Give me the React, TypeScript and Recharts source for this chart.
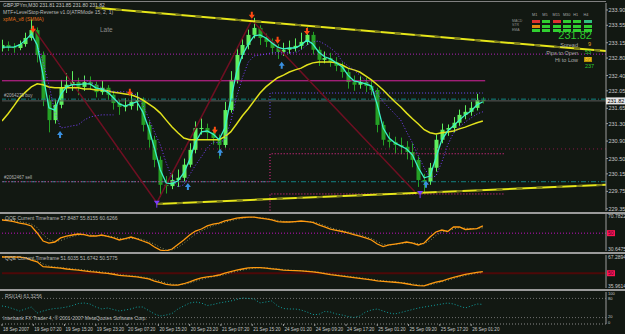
import { Bar, ComposedChart, Line, ReferenceLine, Scatter, XAxis, YAxis } from "recharts";

const BG = "#121812";
const AXIS = "#9c9c9c";
const LABEL = "#c8c8c8";
const FONT = "'Liberation Sans', Arial, sans-serif";
const CANDLE_UP = "#5ef05e";
const CANDLE_DOWN = "#25a025";

// GBPJPYm M30 candles, one candle per 3 bars
const opens = [
  233.02, 233.10, 233.05, 233.03, 233.12, 233.26, 233.44, 232.87, 231.84, 231.38,
  231.73, 232.12, 232.19, 232.25, 232.14, 232.25, 232.19, 232.02, 232.12, 231.96,
  231.77, 231.68, 231.70, 231.80, 231.84, 231.27, 230.93, 230.47, 229.90, 229.87,
  230.01, 230.06, 230.36, 230.70, 231.20, 231.20, 231.09, 230.97, 230.81, 231.61,
  232.30, 232.87, 233.10, 233.33, 233.49, 233.26, 233.17, 233.03, 232.94, 232.99,
  233.03, 233.08, 233.17, 233.33, 232.99, 232.76, 232.80, 232.71, 232.62, 232.48,
  232.25, 232.19, 232.25, 232.16, 232.07, 231.27, 230.93, 230.88, 230.81, 230.77,
  230.65, 230.47, 230.01, 229.97, 230.29, 230.93, 231.16, 231.20, 231.32, 231.50,
  231.57, 231.66, 231.84,
];
const highs = [
  233.22, 233.18, 233.14, 233.20, 233.38, 233.68, 233.50, 232.95, 231.95, 231.85,
  232.30, 232.45, 232.50, 232.35, 232.40, 232.38, 232.26, 232.28, 232.18, 232.05,
  231.85, 231.88, 232.00, 232.02, 231.90, 231.35, 231.02, 230.55, 230.10, 230.20,
  230.25, 230.50, 230.85, 231.35, 231.42, 231.30, 231.18, 231.05, 231.80, 232.50,
  233.05, 233.25, 233.45, 233.72, 233.55, 233.36, 233.25, 233.12, 233.15, 233.20,
  233.25, 233.38, 233.50, 233.40, 233.06, 232.95, 232.92, 232.82, 232.70, 232.55,
  232.40, 232.38, 232.35, 232.30, 232.12, 231.35, 231.10, 231.00, 230.98, 230.90,
  230.85, 230.55, 230.15, 230.40, 231.05, 231.30, 231.28, 231.45, 231.62, 231.72,
  231.80, 231.98, 231.90,
];
const lows = [
  232.95, 232.96, 232.92, 232.98, 233.06, 233.20, 232.70, 231.70, 231.10, 231.30,
  231.65, 232.00, 232.05, 231.95, 232.05, 232.08, 231.90, 231.96, 231.85, 231.62,
  231.50, 231.58, 231.62, 231.60, 231.12, 230.75, 230.30, 229.62, 229.70, 229.80,
  229.85, 229.98, 230.30, 230.62, 231.05, 230.95, 230.82, 230.50, 230.75, 231.55,
  232.22, 232.78, 233.00, 233.25, 233.10, 233.05, 232.88, 232.78, 232.85, 232.90,
  232.95, 233.00, 233.10, 232.88, 232.62, 232.68, 232.60, 232.50, 232.35, 232.10,
  232.05, 232.10, 232.02, 231.95, 231.10, 230.80, 230.75, 230.62, 230.60, 230.48,
  230.30, 229.85, 229.72, 229.90, 230.20, 230.85, 231.02, 231.10, 231.25, 231.40,
  231.48, 231.60, 231.76,
];
const closes = [
  233.10, 233.05, 233.03, 233.12, 233.26, 233.44, 232.87, 231.84, 231.38, 231.73,
  232.12, 232.19, 232.25, 232.14, 232.25, 232.19, 232.02, 232.12, 231.96, 231.77,
  231.68, 231.70, 231.80, 231.84, 231.27, 230.93, 230.47, 229.90, 229.87, 230.01,
  230.06, 230.36, 230.70, 231.20, 231.20, 231.09, 230.97, 230.81, 231.61, 232.30,
  232.87, 233.10, 233.33, 233.49, 233.26, 233.17, 233.03, 232.94, 232.99, 233.03,
  233.08, 233.17, 233.33, 232.99, 232.76, 232.80, 232.71, 232.62, 232.48, 232.25,
  232.19, 232.25, 232.16, 232.07, 231.27, 230.93, 230.88, 230.81, 230.77, 230.65,
  230.47, 230.01, 229.97, 230.29, 230.93, 231.16, 231.20, 231.32, 231.50, 231.57,
  231.66, 231.84, 231.82,
];
// xpMA fast (cyan) and slow (yellow)
const fastMa = [
  233.05, 233.05, 233.05, 233.10, 233.21, 233.35, 233.10, 232.41, 231.66, 231.61,
  231.96, 232.14, 232.19, 232.19, 232.21, 232.21, 232.12, 232.09, 232.02, 231.89,
  231.75, 231.70, 231.75, 231.80, 231.57, 231.20, 230.74, 230.24, 229.94, 229.92,
  229.99, 230.17, 230.47, 230.88, 231.11, 231.13, 231.06, 230.93, 231.20, 231.84,
  232.48, 232.87, 233.12, 233.31, 233.33, 233.26, 233.15, 233.05, 233.01, 233.03,
  233.03, 233.10, 233.21, 233.12, 232.94, 232.83, 232.78, 232.69, 232.60, 232.41,
  232.28, 232.25, 232.21, 232.16, 231.73, 231.20, 230.97, 230.86, 230.79, 230.72,
  230.58, 230.29, 230.06, 230.10, 230.52, 230.93, 231.13, 231.25, 231.38, 231.50,
  231.59, 231.73, 231.80,
];
const slowMa = [
  231.36, 231.52, 231.70, 231.89, 232.02, 232.14, 232.21, 232.19, 232.14, 232.12,
  232.12, 232.12, 232.12, 232.12, 232.09, 232.09, 232.07, 232.07, 232.05, 232.02,
  232.00, 231.98, 231.96, 231.91, 231.84, 231.75, 231.66, 231.54, 231.38, 231.22,
  231.09, 230.97, 230.93, 230.93, 230.93, 230.93, 230.93, 230.93, 231.00, 231.11,
  231.29, 231.48, 231.64, 231.82, 232.00, 232.14, 232.25, 232.35, 232.41, 232.48,
  232.53, 232.57, 232.64, 232.69, 232.71, 232.71, 232.71, 232.69, 232.64, 232.57,
  232.53, 232.48, 232.39, 232.30, 232.19, 232.07, 231.93, 231.80, 231.68, 231.54,
  231.41, 231.29, 231.16, 231.09, 231.06, 231.09, 231.11, 231.13, 231.18, 231.22,
  231.27, 231.32, 231.36,
];
// LevelStop-Reverse dotted stops
const STOP_A_FROM = 5;
const stopA = [233.33, 233.10, 232.71, 232.19, 231.57, 231.20, 231.22, 231.25, 231.27, 231.38, 231.45, 231.48, 231.50, 231.50, 231.50];
const STOP_B_FROM = 14;
const stopB = [
  232.32, 232.25, 232.19, 232.12, 232.05, 232.03, 232.03, 232.03, 232.00, 231.96,
  231.73, 231.43, 231.11, 230.81, 230.40, 230.06, 229.85, 229.90, 230.13, 230.35,
  230.54, 230.74, 230.88, 230.86, 230.93, 231.34, 231.91, 232.35, 232.71, 232.85,
  232.87, 232.89, 232.92, 232.92, 232.92, 232.92, 232.92, 232.99, 233.10, 233.17,
  233.19, 233.12, 233.03, 232.92, 232.73, 232.62, 232.53, 232.41, 232.28, 232.14,
  231.98, 231.80, 231.66, 231.52, 231.38, 231.11, 230.86, 230.56, 230.29, 230.06,
  230.10, 230.42, 230.81, 231.09, 231.22, 231.34, 231.43, 231.52, 231.57,
];

// QQE windows and RSI
const qqeFast = [
  64.3, 63.7, 62.6, 61.0, 59.9, 57.8, 50.2, 41.5, 39.3, 40.4,
  44.8, 46.9, 48.0, 49.1, 48.5, 46.9, 46.9, 48.0, 46.4, 44.8,
  42.6, 44.2, 45.8, 43.7, 41.5, 39.3, 35.0, 31.7, 30.7, 32.8,
  37.7, 42.6, 48.0, 52.3, 54.5, 57.8, 59.9, 61.0, 63.2, 64.8,
  66.4, 67.0, 67.5, 67.5, 66.4, 65.4, 64.3, 62.6, 62.1, 62.1,
  62.6, 63.2, 62.6, 61.6, 58.9, 56.7, 54.5, 52.9, 51.8, 50.2,
  48.5, 46.9, 44.8, 42.6, 38.2, 35.5, 37.2, 38.2, 39.3, 40.4,
  39.3, 37.2, 39.3, 45.8, 51.3, 53.4, 51.8, 56.7, 56.7, 54.0,
  54.5, 55.0, 57.8,
];
const qqeSlow = [
  64.8, 64.5, 63.8, 62.6, 61.3, 59.9, 56.0, 48.5, 43.0, 41.0,
  42.0, 44.5, 46.4, 47.8, 48.6, 48.0, 47.2, 47.2, 47.1, 46.0,
  44.5, 43.6, 44.2, 44.5, 43.0, 41.0, 38.0, 34.5, 32.0, 31.8,
  34.5, 39.0, 44.0, 49.0, 52.5, 55.5, 58.0, 60.0, 61.8, 63.5,
  65.0, 66.2, 67.0, 67.3, 67.0, 66.2, 65.0, 63.8, 62.8, 62.3,
  62.3, 62.6, 62.8, 62.3, 60.5, 58.3, 56.0, 54.2, 52.8, 51.4,
  49.8, 48.2, 46.2, 44.2, 41.0, 37.8, 37.0, 37.8, 38.6, 39.6,
  39.8, 38.5, 38.5, 42.0, 47.5, 51.5, 52.5, 54.5, 56.0, 55.5,
  55.0, 55.0, 55.8,
];
const qqe2Fast = [
  65.4, 65.4, 65.4, 65.2, 64.6, 62.5, 60.8, 56.2, 55.8, 55.3,
  54.8, 54.0, 53.5, 53.0, 52.3, 51.6, 51.1, 50.4, 49.8, 49.0,
  48.0, 47.5, 47.0, 46.5, 45.5, 44.6, 42.5, 41.0, 39.5, 38.7,
  38.7, 40.0, 41.8, 44.0, 45.5, 46.5, 47.3, 48.3, 50.0, 51.6,
  53.0, 54.0, 55.0, 55.3, 55.3, 54.8, 54.2, 53.6, 53.0, 52.6,
  52.5, 52.2, 51.8, 51.2, 50.6, 49.6, 48.6, 48.0, 47.3, 46.6,
  45.8, 45.0, 44.3, 43.6, 42.7, 42.3, 41.8, 41.4, 40.8, 40.0,
  39.0, 38.2, 38.0, 39.8, 41.5, 42.6, 44.5, 46.0, 47.5, 48.8,
  49.8, 50.8, 51.6,
];
const qqe2Slow = [
  65.8, 65.7, 65.6, 65.4, 65.0, 63.8, 62.0, 58.8, 56.8, 56.0,
  55.4, 54.8, 54.2, 53.6, 53.0, 52.4, 51.8, 51.2, 50.5, 49.8,
  49.0, 48.2, 47.6, 47.1, 46.4, 45.4, 44.0, 42.4, 40.8, 39.6,
  39.0, 39.4, 40.6, 42.4, 44.2, 45.6, 46.6, 47.5, 48.7, 50.3,
  51.8, 53.0, 54.0, 54.8, 55.2, 55.1, 54.7, 54.1, 53.5, 53.0,
  52.7, 52.4, 52.1, 51.7, 51.1, 50.3, 49.4, 48.6, 47.9, 47.2,
  46.5, 45.7, 44.9, 44.2, 43.4, 42.8, 42.3, 41.8, 41.3, 40.6,
  39.8, 39.0, 38.4, 38.9, 40.4, 41.8, 43.3, 45.0, 46.5, 47.8,
  49.0, 50.0, 50.6,
];
const rsi = [
  56.3, 53.1, 46.9, 40.6, 46.9, 53.1, 34.4, 40.6, 45.3, 48.4,
  50.0, 53.1, 57.8, 64.1, 65.6, 62.5, 53.1, 46.9, 50.0, 45.3,
  40.6, 43.8, 46.9, 53.1, 53.1, 42.2, 31.3, 25.0, 28.1, 32.8,
  46.9, 56.3, 65.6, 68.8, 65.6, 57.8, 60.9, 65.6, 68.8, 71.9,
  76.6, 81.3, 79.7, 78.1, 65.6, 68.8, 71.9, 56.3, 48.4, 46.9,
  46.9, 43.8, 37.5, 29.7, 29.7, 39.1, 37.5, 31.3, 28.1, 23.4,
  20.3, 25.0, 37.5, 43.8, 46.9, 40.6, 34.4, 31.3, 35.9, 40.6,
  45.3, 50.0, 53.1, 56.3, 59.4, 62.5, 65.6, 62.5, 56.3, 50.0,
  56.3, 62.5, 61.3,
];

// signal arrows / zigzag / trendlines (x in candle index)
const sellIdx = [5.3, 21.8, 36.3, 42.6, 47.0, 52.0];
const sellPrice = [233.40, 231.96, 231.09, 233.72, 233.15, 233.35];
const buyIdx = [9.9, 31.7, 37.2, 47.7, 72.3];
const buyPrice = [231.11, 229.92, 230.70, 232.69, 229.97];
const pivotIdx = [26.4, 71.3];
const pivotPrice = [229.49, 229.71];
const zigzagIdx = [5.3, 26.4, 42.6, 70.4];
const zigzagPrice = [233.49, 229.49, 233.67, 229.74];
const upperTrendIdx = [16, 103];
const upperTrendPrice = [233.95, 232.96];
const lowerTrendIdx = [26.4, 103];
const lowerTrendPrice = [229.46, 229.9];
const stepAIdx = [-0.4, 45.7, 45.7, 85.8];
const stepAPrice = [229.97, 229.97, 230.61, 230.61];
const stepBIdx = [45.7, 45.7, 85.8];
const stepBPrice = [229.31, 229.69, 229.69];
const stepCIdx = [45.7, 45.7, 82.0];
const stepCPrice = [231.43, 232.0, 232.0];

const dottedHigh = 232.89;
const magentaLevel = 232.28;
const buyLevel = 231.86;
const lastPrice = 231.82;
const dottedLow = 230.72;
const sellLevel = 229.97;

const priceTicks = [229.35, 229.75, 230.15, 230.5, 230.9, 231.3, 231.65, 232.05, 232.4, 232.8, 233.15, 233.55, 233.9];
const timeBars = [0, 16, 32, 48, 64, 80, 96, 112, 128, 144, 160, 176, 192, 208, 224, 240];
const timeLabels = [
  "18 Sep 2007", "19 Sep 07:20", "19 Sep 15:20", "19 Sep 23:20", "20 Sep 07:20", "20 Sep 15:20",
  "20 Sep 23:20", "21 Sep 07:20", "21 Sep 15:20", "24 Sep 01:20", "24 Sep 09:20", "24 Sep 17:20",
  "25 Sep 01:20", "25 Sep 09:20", "25 Sep 17:20", "26 Sep 01:20",
];
const tfHeaders = ["M1", "M5", "M15", "M30", "H1", "H4"];
const tfRows = ["MACD", "STR", "EMA"];
const tfColors = [
  ["#e03030", "#30d030", "#e03030", "#30d030", "#30d030", "#30c080"],
  ["#e08a10", "#30d030", "#30d030", "#30d030", "#30d030", "#30d030"],
  ["#30d030", "#30d030", "#30d030", "#30d030", "#30d030", "#30d030"],
];

const X_DOMAIN: [number, number] = [0, 103];
const timeTickIdx = timeBars.map((b) => b / 3);

const mainData = closes.map((close, i) => ({
  i,
  open: opens[i],
  high: highs[i],
  low: lows[i],
  close,
  range: [lows[i], highs[i]],
  fast: fastMa[i],
  slow: slowMa[i],
  stopA: i >= STOP_A_FROM && i < STOP_A_FROM + stopA.length ? stopA[i - STOP_A_FROM] : null,
  stopB: i >= STOP_B_FROM ? stopB[i - STOP_B_FROM] : null,
}));
const pts = (xs: number[], ys: number[]) => xs.map((i, k) => ({ i, v: ys[k] }));
const sub1Data = qqeFast.map((v, i) => ({ i, fast: v, slow: qqeSlow[i] }));
const sub2Data = qqe2Fast.map((v, i) => ({ i, fast: v, slow: qqe2Slow[i] }));
const sub3Data = rsi.map((v, i) => ({ i, v }));

function Candle(props: any) {
  const { x, y, width, height, payload } = props;
  if (!payload || x == null || y == null) return null;
  const { open, close, high, low } = payload;
  const top = Math.min(y, y + height);
  const h = Math.abs(height);
  const span = high - low || 1;
  const py = (v: number) => top + ((high - v) / span) * h;
  const cx = Math.round(x + width / 2) + 0.5;
  const color = close >= open ? CANDLE_UP : CANDLE_DOWN;
  const b1 = py(Math.max(open, close));
  const b2 = py(Math.min(open, close));
  return (
    <g>
      <line x1={cx} x2={cx} y1={top} y2={top + h} stroke={color} />
      <rect x={cx - 2} y={b1} width={4} height={Math.max(1, b2 - b1)} fill={color} />
    </g>
  );
}

const SellArrow = ({ cx, cy }: any) => (
  <path d={`M${cx - 1} ${cy - 6}h2v3h2l-3 4l-3 -4h2z`} fill="#ff4a12" />
);
const BuyArrow = ({ cx, cy }: any) => (
  <path d={`M${cx - 1} ${cy + 6}h2v-3h2l-3 -4l-3 4h2z`} fill="#3a90e0" />
);
const Pivot = ({ cx, cy }: any) => (
  <g>
    <path d={`M${cx - 3} ${cy - 2}l3 4l3 -4z`} fill="#7a3cff" />
    <line x1={cx} x2={cx} y1={cy} y2={cy + 5} stroke="#7a3cff" />
  </g>
);

function PriceTick({ x, y, payload }: any) {
  const v = payload.value;
  if (Math.abs(v - lastPrice) < 0.001) {
    return (
      <g>
        <rect x={x} y={y - 3.5} width={19} height={7} fill="#e6e6e6" />
        <text x={x + 1.5} y={y + 2} fontSize={5.5} fill="#000" fontFamily={FONT}>{v.toFixed(2)}</text>
      </g>
    );
  }
  return (
    <g>
      <line x1={x} x2={x + 2} y1={y} y2={y} stroke={AXIS} />
      <text x={x + 2.5} y={y + 2} fontSize={5.5} fill={LABEL} fontFamily={FONT}>{v.toFixed(2)}</text>
    </g>
  );
}

function makeSubTick(min: number, max: number, digits: number, size = 5) {
  return function SubTick({ x, y, payload }: any) {
    const v = payload.value;
    if (v === 50) {
      return (
        <g>
          <rect x={x + 1} y={y - 3} width={8} height={6} fill="#ff1450" />
          <text x={x + 2} y={y + 2} fontSize={5} fill="#3a0030" fontFamily={FONT}>50</text>
        </g>
      );
    }
    let dy = 2;
    if (v === max) dy = size * 0.8;
    else if (v === min) dy = -0.5;
    else if (digits === 0) dy = v > 50 ? 1.5 : 0.5;
    return (
      <text x={x + 2} y={y + dy} fontSize={size} fill={LABEL} fontFamily={FONT}>{v.toFixed(digits)}</text>
    );
  };
}

function TimeTick({ x, y, payload }: any) {
  const k = timeTickIdx.indexOf(payload.value);
  if (k < 0) return null;
  return (
    <g>
      <line x1={x} x2={x} y1={y} y2={y + 2} stroke={AXIS} />
      <text x={x + 1} y={y + 6.5} fontSize={4.6} fill={LABEL} fontFamily={FONT}>{timeLabels[k]}</text>
    </g>
  );
}

const txt = (left: number, top: number, text: string, color = "#b8b8b8", size = 5): any => (
  <div style={{ position: "absolute", left, top, color, fontSize: size, lineHeight: 1, whiteSpace: "nowrap", fontFamily: FONT }}>{text}</div>
);

function SubChart({ top, height, data, domain, ticks, tick, children, withTime }: any) {
  return (
    <div style={{ position: "absolute", left: 0, top }}>
      <ComposedChart width={625} height={height} data={data} margin={{ top: 1, right: 0, bottom: withTime ? 0 : 1, left: 2 }}>
        {withTime ? (
          <XAxis dataKey="i" type="number" domain={X_DOMAIN} allowDataOverflow ticks={timeTickIdx} interval={0} height={10}
            axisLine={{ stroke: "#8a8a8a", strokeDasharray: "1 2" }} tickLine={false} tickSize={0} tickMargin={0} tick={<TimeTick />} />
        ) : (
          <XAxis dataKey="i" type="number" domain={X_DOMAIN} allowDataOverflow hide />
        )}
        <YAxis orientation="right" width={19} domain={domain} allowDataOverflow ticks={ticks} interval={0}
          axisLine={{ stroke: AXIS }} tickLine={false} tickSize={0} tickMargin={0} tick={tick} />
        {children}
      </ComposedChart>
    </div>
  );
}

export default function App() {
  return (
    <div style={{ position: "fixed", left: 0, top: 0, width: 625, height: 334, background: BG, overflow: "hidden", fontFamily: FONT }}>
      <style>{`body{margin:0}`}</style>
      <div style={{ position: "absolute", left: 0, top: 0 }}>
        <ComposedChart width={625} height={212} data={mainData} margin={{ top: 3, right: 0, bottom: 1, left: 2 }}>
          <XAxis dataKey="i" type="number" domain={X_DOMAIN} allowDataOverflow hide />
          <YAxis orientation="right" width={19} domain={[229.3, 234.06]} allowDataOverflow ticks={[...priceTicks, lastPrice]}
            interval={0} axisLine={{ stroke: AXIS }} tickLine={false} tickSize={0} tickMargin={0} tick={<PriceTick />} />
          <ReferenceLine y={dottedHigh} stroke="#b020b8" strokeDasharray="1 2" />
          <ReferenceLine segment={[{ x: 0, y: magentaLevel }, { x: 82.4, y: magentaLevel }]} stroke="#d8239f" />
          <ReferenceLine y={buyLevel} stroke="#128282" strokeDasharray="5 2 1 2" />
          <ReferenceLine y={lastPrice} stroke="#5a5a5a" />
          <ReferenceLine y={dottedLow} stroke="#8a1848" strokeDasharray="1 3" />
          <ReferenceLine y={sellLevel} stroke="#128282" strokeDasharray="5 2 1 2" />
          <Line data={pts(stepAIdx, stepAPrice)} dataKey="v" stroke="#ff2a9a" strokeDasharray="1 2" dot={false} isAnimationActive={false} />
          <Line data={pts(stepBIdx, stepBPrice)} dataKey="v" stroke="#ff2a9a" strokeDasharray="1 2" dot={false} isAnimationActive={false} />
          <Line data={pts(stepCIdx, stepCPrice)} dataKey="v" stroke="#7048ff" strokeDasharray="1 2" dot={false} isAnimationActive={false} />
          <Line data={pts(zigzagIdx, zigzagPrice)} dataKey="v" stroke="#6e0f22" strokeWidth={1.5} dot={false} isAnimationActive={false} />
          <Bar dataKey="range" barSize={4} shape={(p: any) => <Candle {...p} />} isAnimationActive={false} />
          <Line dataKey="slow" stroke="#e2e21c" strokeWidth={1.5} dot={false} isAnimationActive={false} />
          <Line dataKey="stopA" stroke="#7a40ff" strokeDasharray="1 2" dot={false} isAnimationActive={false} />
          <Line dataKey="stopB" stroke="#7a40ff" strokeDasharray="1 2" dot={false} isAnimationActive={false} />
          <Line dataKey="fast" stroke="#3cf2c8" strokeWidth={1.3} dot={false} isAnimationActive={false} />
          <Line data={pts(upperTrendIdx, upperTrendPrice)} dataKey="v" stroke="#e6e619" strokeWidth={2} dot={false} isAnimationActive={false} />
          <Line data={pts(upperTrendIdx, upperTrendPrice)} dataKey="v" stroke="#7d7d1e" strokeWidth={2} strokeDasharray="6 14" dot={false} isAnimationActive={false} />
          <Line data={pts(lowerTrendIdx, lowerTrendPrice)} dataKey="v" stroke="#e6e619" strokeWidth={2} dot={false} isAnimationActive={false} />
          <Line data={pts(lowerTrendIdx, lowerTrendPrice)} dataKey="v" stroke="#7d7d1e" strokeWidth={2} strokeDasharray="6 14" dot={false} isAnimationActive={false} />
          <Scatter data={pts(sellIdx, sellPrice)} dataKey="v" shape={(p: any) => <SellArrow {...p} />} isAnimationActive={false} />
          <Scatter data={pts(buyIdx, buyPrice)} dataKey="v" shape={(p: any) => <BuyArrow {...p} />} isAnimationActive={false} />
          <Scatter data={pts(pivotIdx, pivotPrice)} dataKey="v" shape={(p: any) => <Pivot {...p} />} isAnimationActive={false} />
        </ComposedChart>
      </div>

      <SubChart top={213} height={39} data={sub1Data} domain={[30.6475, 70.7822]} ticks={[30.6475, 50, 70.7822]} tick={makeSubTick(30.6475, 70.7822, 4)}>
        <ReferenceLine y={50} stroke="#c010c0" strokeDasharray="1 2" />
        <Line dataKey="slow" stroke="#8c8c5a" strokeDasharray="1 2" dot={false} isAnimationActive={false} />
        <Line dataKey="fast" stroke="#ff9a10" strokeWidth={1.3} dot={false} isAnimationActive={false} />
      </SubChart>
      <SubChart top={254} height={35} data={sub2Data} domain={[35.9614, 67.2894]} ticks={[35.9614, 50, 67.2894]} tick={makeSubTick(35.9614, 67.2894, 4)}>
        <ReferenceLine y={50} stroke="#4e0808" strokeWidth={2} />
        <Line dataKey="slow" stroke="#8c8c5a" strokeDasharray="1 2" dot={false} isAnimationActive={false} />
        <Line dataKey="fast" stroke="#ff9a10" strokeWidth={1.3} dot={false} isAnimationActive={false} />
      </SubChart>
      <SubChart top={291} height={43} data={sub3Data} domain={[0, 100]} ticks={[0, 20, 80, 100]} tick={makeSubTick(0, 100, 0, 4)} withTime>
        <ReferenceLine y={80} stroke="#707070" strokeDasharray="1 2" />
        <ReferenceLine y={20} stroke="#707070" strokeDasharray="1 2" />
        <Line dataKey="v" stroke="#10a0a0" strokeDasharray="1 2" dot={false} isAnimationActive={false} />
      </SubChart>

      <div style={{ position: "absolute", left: 0, top: 1, width: 606, height: 1, background: "#808080" }} />
      <div style={{ position: "absolute", left: 0, top: 212, width: 625, height: 2, background: "#9a9a9a" }} />
      <div style={{ position: "absolute", left: 0, top: 252, width: 625, height: 2, background: "#9a9a9a" }} />
      <div style={{ position: "absolute", left: 0, top: 289, width: 625, height: 2, background: "#9a9a9a" }} />

      {txt(3, 3, "GBPJPYm,M30  231.81 231.85 231.80 231.82", "#c8c8c8")}
      {txt(3, 10, "MTF+LevelStop-Reverse v1.0(ATRMode 15, 2, 1)")}
      {txt(3, 17, "xpMA_v8   (SMMA)", "#e0701a")}
      {txt(100, 27, "Late", "#8c8c8c", 6.5)}
      {txt(4, 94, "#2064279 buy", "#b0b0b0", 4.5)}
      {txt(4, 176, "#2062467 sell", "#b0b0b0", 4.5)}
      {txt(5, 216, "QQE Current Timeframe 57.8487 55.8155 60.6266")}
      {txt(5, 256, "QQE Current Timeframe 51.6035 51.6742 50.5775")}
      {txt(5, 294, "RSI(14) 61.3256")}
      {txt(3, 316, "Interbank FX Trader 4, © 2001-2007 MetaQuotes Software Corp.")}

      {tfHeaders.map((h, c) => txt(532 + c * 10.3, 14, h, "#a8a8a8", 3.8))}
      {tfRows.map((r, k) => txt(512, 19.5 + k * 4.5, r, "#909090", 3.5))}
      {tfColors.map((row, k) =>
        row.map((col, c) => (
          <div key={`${k}-${c}`} style={{ position: "absolute", left: 532 + c * 10.3, top: 20 + k * 4.5, width: 8, height: 3, background: col }} />
        ))
      )}
      <div style={{ position: "absolute", right: 33, top: 30, color: "#2ec82e", fontSize: 11, lineHeight: 1, fontFamily: FONT }}>231.82</div>
      <div style={{ position: "absolute", right: 47, top: 42, color: "#a8a8a8", fontSize: 5.5, lineHeight: "7.5px", textAlign: "right", fontFamily: FONT }}>
        <div>Spread</div>
        <div>Pips to Open</div>
        <div>Hi to Low</div>
      </div>
      {txt(588, 42, "9", "#e8a020", 5.5)}
      {txt(585, 49.5, "53", "#2ec82e", 5.5)}
      <div style={{ position: "absolute", left: 584, top: 56.5, padding: "0 1px", background: "#b89000", color: "#ffd040", fontSize: 5.5, lineHeight: 1, fontFamily: FONT }}>89</div>
      {txt(585, 64, "237", "#2ec82e", 5.5)}
    </div>
  );
}
